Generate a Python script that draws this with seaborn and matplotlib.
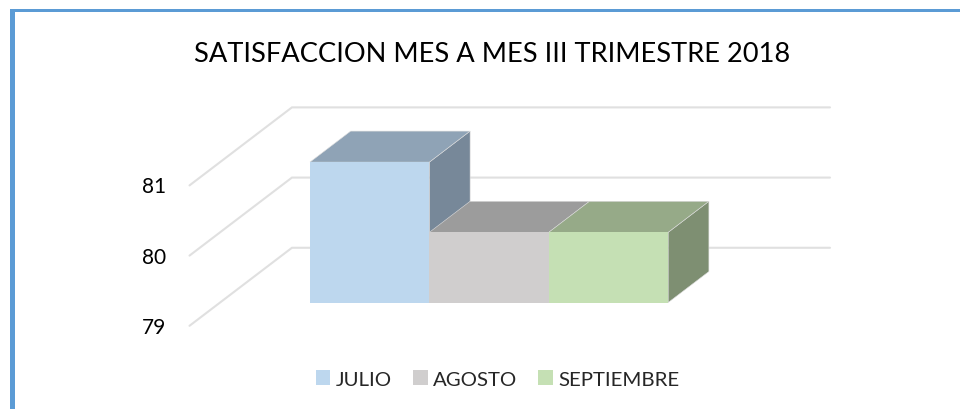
import matplotlib
matplotlib.use('Agg')
import matplotlib.pyplot as plt
from matplotlib.patches import Polygon, Rectangle
import numpy as np
import pandas as pd
import seaborn as sns

TITLE = 'SATISFACCION MES A MES III TRIMESTRE 2018'
months = ['JULIO', 'AGOSTO', 'SEPTIEMBRE']
satisfaction = [81, 80, 80]
y_ticks = [79, 80, 81]

front_colors = ['#bdd7ee', '#d0cece', '#c5e0b4']
top_colors = ['#8fa3b6', '#9c9c9c', '#96aa88']
side_colors = ['#778899', '#7c7c7c', '#7e8f72']
GRID_COLOR = '#e0e0e0'
BORDER_COLOR = '#5b9bd5'

W, H = 960, 410
BASE = y_ticks[0]

# pixel scale of the front plane of the bars
PX_PER_CAT = 119.4
PX_PER_VAL = 70.2
X0_PX = 369.7   # centre of first bar
Y0_PX = 303.5   # where the base value sits

# oblique depth, in data units per depth unit
DX = 40.7 / PX_PER_CAT
DY = 31.0 / PX_PER_VAL


def project(x, value, depth=0.0):
    return x + depth * DX, value - BASE + depth * DY


sns.set_style('white')
plt.rcParams['font.family'] = ['Lato', 'DejaVu Sans']

df = pd.DataFrame({'mes': months, 'altura': np.array(satisfaction) - BASE})

fig = plt.figure(figsize=(W / 100, H / 100), dpi=100)
ax = fig.add_axes([0, 0, 1, 1])

palette = dict(zip(months, front_colors))
sns.barplot(data=df, x='mes', y='altura', hue='mes', order=months, hue_order=months,
            palette=palette, width=1.0, dodge=False, saturation=1, legend=True,
            linewidth=0, zorder=10, ax=ax)

ax.set_xlim(-X0_PX / PX_PER_CAT, (W - X0_PX) / PX_PER_CAT)
ax.set_ylim(-(H - Y0_PX) / PX_PER_VAL, Y0_PX / PX_PER_VAL)

# back wall and gridlines
WALL_X = (220.1 - X0_PX) / PX_PER_CAT
WALL_FRONT = -0.752
WALL_BACK = 1.765
GRID_END = (830 - X0_PX) / PX_PER_CAT
for tick in y_ticks:
    x0, y0 = project(WALL_X, tick, WALL_FRONT)
    x1, y1 = project(WALL_X, tick, WALL_BACK)
    ax.plot([x0, x1, GRID_END], [y0, y1, y1], color=GRID_COLOR, lw=1.5,
            solid_joinstyle='miter', zorder=1)
    ax.text(x0 - 23 / PX_PER_CAT, y0 - 1 / PX_PER_VAL, str(tick), ha='right', va='center',
            fontsize=15, color='black')

# top and side faces of every bar, left to right
for i, value in enumerate(satisfaction):
    left, right = i - 0.5, i + 0.5
    side = [project(right, BASE), project(right, value),
            project(right, value, 1), project(right, BASE, 1)]
    top = [project(left, value), project(right, value),
           project(right, value, 1), project(left, value, 1)]
    ax.add_patch(Polygon(side, closed=True, fc=side_colors[i], ec='#dcdcdc', lw=0.4, zorder=3 + i))
    ax.add_patch(Polygon(top, closed=True, fc=top_colors[i], ec='#dcdcdc', lw=0.4, zorder=3 + i))

ax.axis('off')

ax.text((492 - X0_PX) / PX_PER_CAT, (Y0_PX - 54) / PX_PER_VAL, TITLE, ha='center', va='center',
        fontsize=19.6, color='black')

sns.move_legend(ax, 'center', bbox_to_anchor=(497.5 / W, 1 - 380 / H), ncol=3, title=None,
                frameon=False, fontsize=14.7, handlelength=0.72, handleheight=0.72,
                handletextpad=0.25, columnspacing=1.05, borderpad=0)

# frame of the picture, only left and top edges
fig.add_artist(Rectangle((10 / W, 0), 5 / W, 1 - 10 / H, transform=fig.transFigure,
                         fc=BORDER_COLOR, ec='none'))
fig.add_artist(Rectangle((10 / W, 1 - 13 / H), 1 - 10 / W, 3 / H, transform=fig.transFigure,
                         fc=BORDER_COLOR, ec='none'))

fig.savefig('out.png', dpi=100, facecolor='white')
